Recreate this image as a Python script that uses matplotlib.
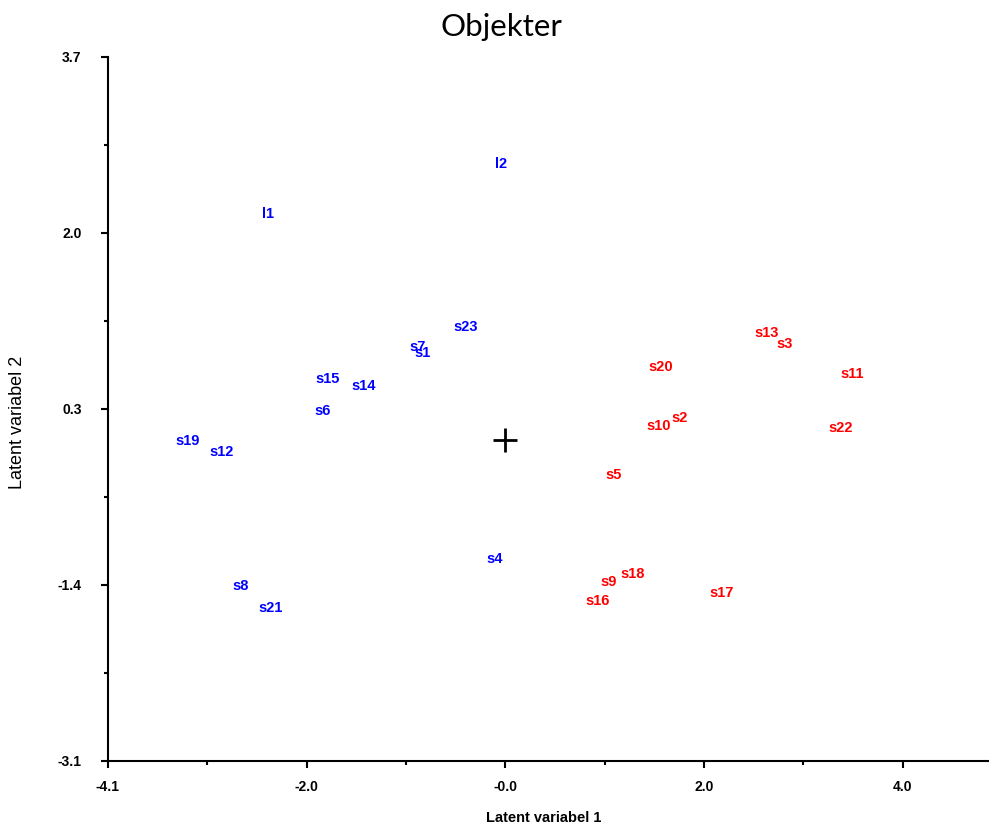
import matplotlib
matplotlib.use("Agg")
import matplotlib.pyplot as plt

# Object scores
blue_labels = ["l1", "l2", "s23", "s7", "s1", "s15", "s14", "s6",
               "s19", "s12", "s8", "s21", "s4"]
blue_x = [-2.39, -0.04, -0.40, -0.88, -0.83, -1.79, -1.43, -1.84,
          -3.20, -2.86, -2.66, -2.36, -0.11]
blue_y = [2.18, 2.67, 1.09, 0.90, 0.84, 0.59, 0.52, 0.28,
          -0.01, -0.12, -1.41, -1.62, -1.15]

red_labels = ["s13", "s3", "s20", "s11", "s10", "s2", "s22", "s5",
              "s9", "s18", "s16", "s17"]
red_x = [2.63, 2.81, 1.57, 3.49, 1.54, 1.76, 3.38, 1.09,
         1.04, 1.28, 0.93, 2.18]
red_y = [1.03, 0.93, 0.71, 0.64, 0.14, 0.21, 0.12, -0.34,
         -1.37, -1.29, -1.55, -1.48]

x_ticks = [-4, -2, 0, 2, 4]
x_tick_labels = ["-4.1", "-2.0", "-0.0", "2.0", "4.0"]
x_minor = [-3, -1, 1, 3]
y_ticks = [3.7, 2.0, 0.3, -1.4, -3.1]
y_tick_labels = ["3.7", "2.0", "0.3", "-1.4", "-3.1"]
y_minor = [2.85, 1.15, -0.55, -2.25]

fig = plt.figure(figsize=(9.89, 8.25), dpi=100)
ax = fig.add_axes([108 / 989, 1 - 761 / 825, 881 / 989, 704 / 825])

for lab, x, y in zip(blue_labels, blue_x, blue_y):
    ax.text(x, y, lab, color="#0000ff", fontsize=10.5, fontweight="bold",
            family="Liberation Sans", ha="center", va="center")
for lab, x, y in zip(red_labels, red_x, red_y):
    ax.text(x, y, lab, color="#ff0000", fontsize=10.5, fontweight="bold",
            family="Liberation Sans", ha="center", va="center")

# origin cross
ax.plot([0], [0], marker="+", color="black", markersize=17, mew=2)

ax.set_xlim(-4.0, 4.87)
ax.set_ylim(-3.1, 3.7)

ax.spines["top"].set_visible(False)
ax.spines["right"].set_visible(False)
ax.spines["left"].set_linewidth(1.5)
ax.spines["bottom"].set_linewidth(1.5)

ax.set_xticks(x_ticks)
ax.set_xticklabels(x_tick_labels)
ax.set_xticks(x_minor, minor=True)
ax.set_yticks(y_ticks)
ax.set_yticklabels(y_tick_labels)
ax.set_yticks(y_minor, minor=True)
ax.tick_params(axis="both", which="major", length=5, width=1.5, direction="out")
ax.tick_params(axis="both", which="minor", length=3, width=1.5, direction="out")
ax.tick_params(axis="x", pad=9)
ax.tick_params(axis="y", pad=14)
for t in ax.get_xticklabels() + ax.get_yticklabels():
    t.set_fontfamily("Liberation Sans")
    t.set_fontweight("bold")
    t.set_fontsize(10)

fig.text(544 / 989, 1 - 818 / 825, "Latent variabel 1", ha="center", va="center",
         fontsize=10.5, fontweight="bold", family="Liberation Sans")
fig.text(18 / 989, 1 - 422 / 825, "Latent variabel 2", ha="center", va="center",
         rotation=90, fontsize=13, family="Liberation Sans")
fig.text(501 / 989, 1 - 27 / 825, "Objekter", ha="center", va="center",
         fontsize=22.5, family="Lato")

fig.savefig("out.png", dpi=100)
